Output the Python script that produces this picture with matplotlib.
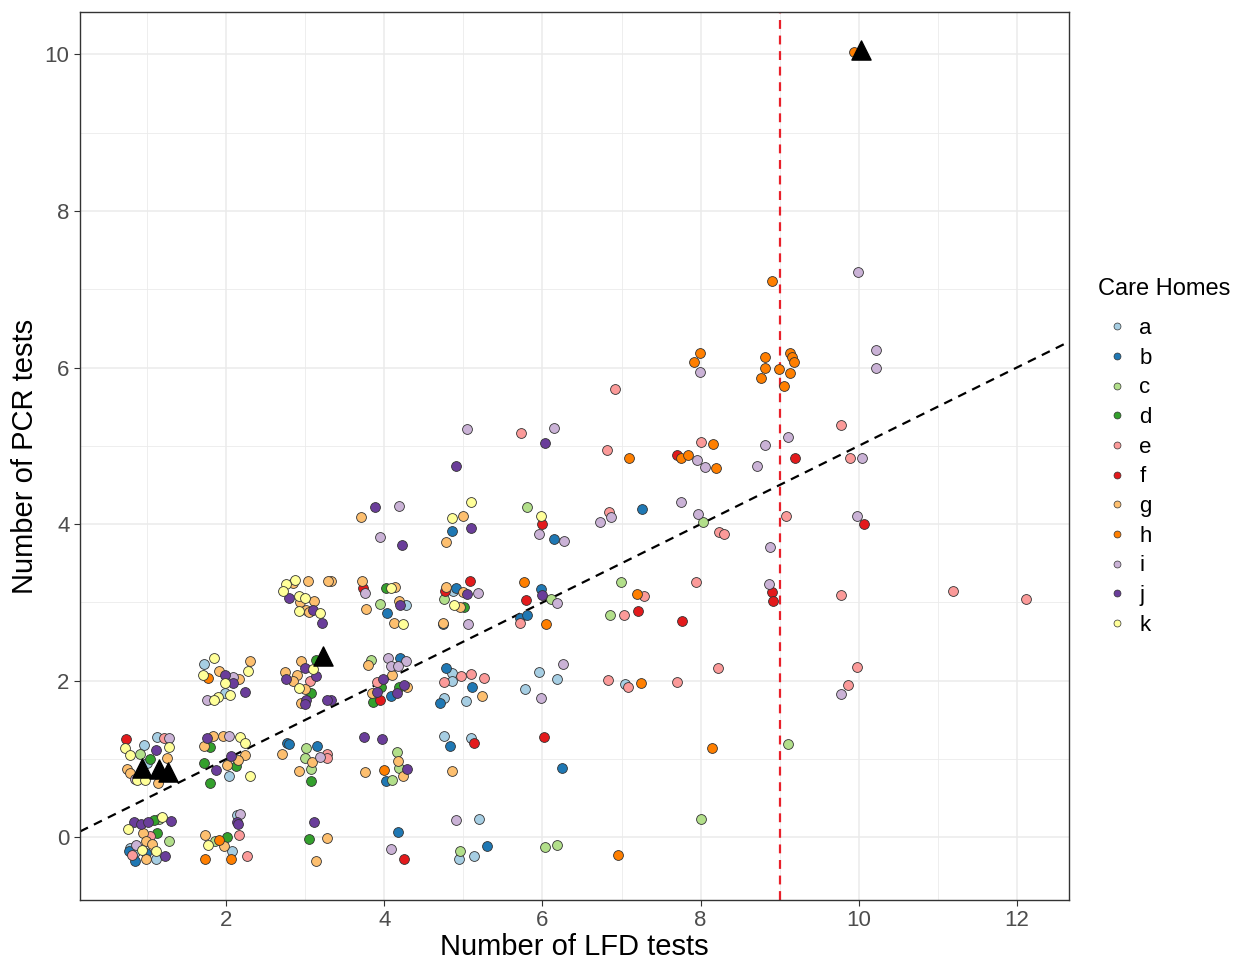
import matplotlib
matplotlib.use("Agg")
import matplotlib.pyplot as plt
from matplotlib.lines import Line2D
from matplotlib.ticker import MultipleLocator

plt.rcParams['font.family'] = ['Liberation Sans', 'DejaVu Sans']

# --- Data: (LFD tests, PCR tests) per care home ---
home_a = [(7.04, 1.96), (4.28, 2.97), (4.87, 3.15), (4.86, 2.10), (4.86, 2.00), (4.76, 1.78),
          (5.03, 1.74), (5.96, 2.11), (6.19, 2.02), (5.78, 1.89), (4.75, 1.29), (5.09, 1.27),
          (5.20, 0.23), (4.95, -0.27), (5.14, -0.24), (1.72, 2.21), (1.99, 1.85), (2.03, 0.78),
          (0.96, 1.18), (1.13, 1.28), (0.78, -0.14), (0.85, -0.19), (1.11, -0.28), (2.14, 0.28),
          (2.07, -0.18), (1.00, 0.95)]
home_b = [(7.26, 4.19), (4.85, 3.91), (6.15, 3.81), (4.90, 3.19), (4.03, 2.87), (4.74, 2.73),
          (5.98, 3.17), (5.72, 2.80), (5.81, 2.84), (4.20, 2.29), (4.08, 1.80), (4.78, 2.16),
          (5.11, 1.92), (4.71, 1.71), (4.02, 0.72), (4.83, 1.17), (6.25, 0.89), (4.17, 0.07),
          (5.30, -0.11), (2.77, 1.21), (2.79, 1.19), (3.15, 1.17), (0.77, -0.18), (0.98, -0.20),
          (0.84, -0.30)]
home_c = [(8.03, 4.03), (6.99, 3.26), (6.86, 2.84), (9.10, 1.19), (8.00, 0.23), (5.81, 4.22),
          (3.95, 2.98), (4.76, 3.04), (6.11, 3.04), (3.83, 2.26), (4.16, 1.09), (4.18, 0.89),
          (4.10, 0.73), (4.96, -0.17), (6.03, -0.12), (6.19, -0.10), (3.01, 1.14), (2.99, 1.01),
          (3.07, 0.87), (0.91, 1.07), (1.27, -0.05), (1.86, -0.04), (1.15, 0.24)]
home_d = [(4.02, 3.18), (5.01, 2.94), (3.96, 1.92), (3.86, 1.73), (4.18, 1.92), (3.14, 2.27),
          (3.07, 1.85), (1.80, 1.15), (1.72, 0.95), (2.12, 0.91), (1.80, 0.70), (3.07, 0.72),
          (1.04, 1.00), (1.09, 0.22), (1.13, 0.06), (2.01, 0.00), (3.05, -0.02)]
home_e = [(9.78, 5.26), (9.89, 4.84), (6.92, 5.72), (5.73, 5.17), (6.81, 4.95), (8.00, 5.05),
          (6.84, 4.15), (8.23, 3.90), (8.29, 3.88), (9.08, 4.10), (7.29, 3.08), (7.94, 3.26),
          (7.03, 2.84), (9.78, 3.10), (11.19, 3.15), (12.11, 3.05), (9.98, 2.18), (9.86, 1.95),
          (8.22, 2.16), (6.83, 2.01), (7.08, 1.92), (7.70, 1.98), (5.72, 2.74), (3.91, 1.99),
          (4.75, 1.99), (4.97, 2.06), (5.10, 2.09), (5.26, 2.04), (3.06, 2.00), (3.27, 1.06),
          (3.28, 1.01), (1.21, 1.27), (1.03, 0.02), (0.81, -0.23), (2.16, 0.03), (2.26, -0.24)]
home_f = [(9.20, 4.85), (10.07, 4.00), (7.70, 4.88), (6.00, 4.00), (8.90, 3.13), (8.92, 3.02),
          (7.21, 2.89), (7.76, 2.76), (3.73, 3.18), (4.77, 3.14), (5.08, 3.27), (5.79, 3.03),
          (3.94, 1.76), (5.14, 1.21), (6.02, 1.28), (4.25, -0.28), (0.73, 1.26)]
home_g = [(3.71, 4.09), (5.00, 4.10), (4.78, 3.77), (3.32, 3.27), (3.72, 3.28), (4.13, 3.20),
          (3.77, 2.92), (4.19, 3.02), (4.12, 2.74), (4.78, 3.20), (4.99, 3.13), (4.96, 2.94),
          (4.74, 2.74), (3.79, 2.20), (4.10, 2.08), (3.84, 1.84), (4.29, 1.92), (5.24, 1.81),
          (4.17, 0.97), (3.76, 0.83), (4.24, 0.78), (4.86, 0.85), (3.04, 3.28), (3.29, 3.27),
          (2.85, 3.25), (2.93, 3.01), (3.11, 3.02), (3.01, 2.90), (3.05, 2.88), (2.95, 2.25),
          (2.74, 2.11), (2.90, 2.08), (2.85, 2.00), (3.00, 1.89), (2.95, 1.71), (1.91, 2.13),
          (2.16, 2.02), (2.30, 2.25), (1.83, 1.29), (1.96, 1.29), (1.72, 1.17), (2.24, 1.05),
          (2.15, 0.99), (2.01, 0.92), (2.71, 1.06), (3.09, 0.96), (2.92, 0.85), (1.25, 1.01),
          (0.74, 0.87), (0.78, 0.82), (1.14, 0.70), (0.95, 0.05), (0.98, -0.05), (1.06, -0.09),
          (0.99, -0.28), (1.73, 0.03), (1.97, -0.11), (3.27, -0.01), (3.13, -0.30)]
home_h = [(9.94, 10.03), (8.90, 7.10), (7.99, 6.19), (7.92, 6.07), (8.81, 6.13), (8.81, 5.99),
          (8.76, 5.87), (8.99, 5.98), (9.13, 6.19), (9.15, 6.13), (9.18, 6.07), (9.13, 5.93),
          (9.05, 5.77), (7.10, 4.85), (7.75, 4.85), (7.84, 4.88), (8.16, 5.02), (8.19, 4.72),
          (7.19, 3.11), (7.25, 1.97), (8.15, 1.14), (6.96, -0.22), (5.77, 3.26), (6.05, 2.73),
          (4.00, 0.86), (1.77, 2.03), (1.91, -0.03), (1.73, -0.28), (2.06, -0.28)]
home_i = [(9.99, 7.22), (7.99, 5.94), (10.22, 6.23), (10.22, 6.00), (8.82, 5.01), (9.10, 5.11),
          (8.71, 4.74), (10.04, 4.84), (9.98, 4.11), (9.78, 1.83), (7.96, 4.82), (8.05, 4.73),
          (7.75, 4.28), (6.87, 4.09), (6.73, 4.03), (7.97, 4.13), (8.88, 3.71), (8.86, 3.24),
          (5.05, 5.22), (6.15, 5.23), (4.19, 4.23), (3.94, 3.83), (5.95, 3.87), (6.27, 3.78),
          (3.76, 3.12), (5.18, 3.12), (6.18, 2.99), (5.06, 2.72), (4.05, 2.29), (4.27, 2.25),
          (4.08, 2.19), (4.17, 2.19), (6.26, 2.22), (5.98, 1.78), (4.90, 0.22), (4.08, -0.15),
          (2.08, 2.05), (1.76, 1.76), (2.03, 1.29), (3.18, 1.03), (1.27, 1.27), (0.86, -0.10),
          (2.18, 0.30), (0.85, 0.75)]
home_j = [(6.03, 5.03), (4.91, 4.74), (3.88, 4.22), (4.22, 3.74), (5.10, 3.95), (4.20, 2.97),
          (5.05, 3.11), (5.99, 3.09), (3.98, 2.02), (3.91, 1.86), (4.25, 1.95), (4.16, 1.84),
          (3.32, 1.76), (3.74, 1.28), (3.97, 1.25), (4.29, 0.87), (3.21, 2.74), (3.00, 2.16),
          (2.76, 2.02), (3.13, 2.06), (3.28, 1.76), (3.01, 1.75), (2.99, 1.70), (1.99, 2.08),
          (2.09, 1.97), (2.24, 1.86), (1.76, 1.27), (2.06, 1.04), (1.87, 0.86), (2.80, 3.06),
          (3.10, 2.90), (1.11, 1.11), (0.83, 0.19), (0.92, 0.17), (1.01, 0.20), (1.30, 0.21),
          (1.22, -0.24), (2.14, 0.20), (2.15, 0.17), (3.11, 0.19)]
home_k = [(5.10, 4.28), (4.86, 4.08), (5.98, 4.11), (4.08, 3.19), (4.23, 2.73), (4.88, 2.97),
          (2.87, 3.29), (2.76, 3.23), (2.72, 3.14), (2.92, 3.08), (3.00, 3.06), (2.92, 2.89),
          (3.18, 2.86), (1.84, 2.29), (1.70, 2.08), (1.99, 1.97), (2.28, 2.12), (2.05, 1.82),
          (1.89, 1.79), (1.85, 1.75), (3.10, 2.15), (2.92, 1.91), (2.17, 1.28), (2.24, 1.20),
          (2.30, 0.79), (0.72, 1.14), (1.28, 1.16), (0.78, 1.05), (0.87, 0.73), (0.97, 0.73),
          (0.76, 0.11), (1.19, 0.26), (0.94, -0.16), (1.11, -0.18), (1.77, -0.10)]

# black triangles
tri_x = [0.93, 1.15, 1.26, 3.22, 10.03]
tri_y = [0.89, 0.87, 0.83, 2.31, 10.05]

# reference lines
line_slope = 0.5
line_intercept = 0.0
cutoff_x = 9

labels = ["a", "b", "c", "d", "e", "f", "g", "h", "i", "j", "k"]
homes = [home_a, home_b, home_c, home_d, home_e, home_f, home_g, home_h, home_i, home_j, home_k]
colors = ["#A6CEE3", "#1F78B4", "#B2DF8A", "#33A02C", "#FB9A99", "#E31A1C",
          "#FDBF6F", "#FF7F00", "#CAB2D6", "#6A3D9A", "#FFFF99"]

# --- Plot ---
fig = plt.figure(figsize=(12.36, 9.63), dpi=100)
ax = fig.add_axes([0.0647, 0.0654, 0.8002, 0.9221])

for lab, pts, col in zip(labels, homes, colors):
    xs = [p[0] for p in pts]
    ys = [p[1] for p in pts]
    ax.scatter(xs, ys, s=50, c=col, edgecolors="#333333", linewidths=0.6, zorder=3, label=lab)

ax.scatter(tri_x, tri_y, marker="^", s=190, c="black", zorder=4)

ax.axline((0, line_intercept), slope=line_slope, color="black", linestyle=(0, (4, 3)), linewidth=1.6, zorder=2)
ax.axvline(cutoff_x, color="#E8202A", linestyle=(0, (4, 3)), linewidth=1.6, zorder=2)

ax.set_xlim(0.15, 12.66)
ax.set_ylim(-0.80, 10.54)
ax.xaxis.set_major_locator(MultipleLocator(2))
ax.yaxis.set_major_locator(MultipleLocator(2))
ax.xaxis.set_minor_locator(MultipleLocator(1))
ax.yaxis.set_minor_locator(MultipleLocator(1))
ax.grid(which="major", color="#EBEBEB", linewidth=1.1, zorder=0)
ax.grid(which="minor", color="#EBEBEB", linewidth=0.6, zorder=0)
ax.set_axisbelow(True)
ax.tick_params(which="major", length=4, color="#333333", labelsize=16, labelcolor="#4D4D4D")
ax.tick_params(which="minor", length=0)
for sp in ax.spines.values():
    sp.set_color("#333333")
    sp.set_linewidth(1.0)

ax.set_xlabel("Number of LFD tests", fontsize=21, labelpad=1)
ax.set_ylabel("Number of PCR tests", fontsize=21, labelpad=4)

# legend: title as plain text, entries below it
fig.text(1098 / 1236, 1 - 289 / 963, "Care Homes", fontsize=17, ha="left", va="center")
handles = [Line2D([0], [0], marker="o", linestyle="", markersize=5, markerfacecolor=c,
                  markeredgecolor="#333333", markeredgewidth=0.5) for c in colors]
fig.legend(handles, labels, loc="upper left", bbox_to_anchor=(0.8786, 0.6904), frameon=False,
           fontsize=16, labelspacing=0.39, handletextpad=0.5, handlelength=1.0)

fig.savefig("out.png", dpi=100)
